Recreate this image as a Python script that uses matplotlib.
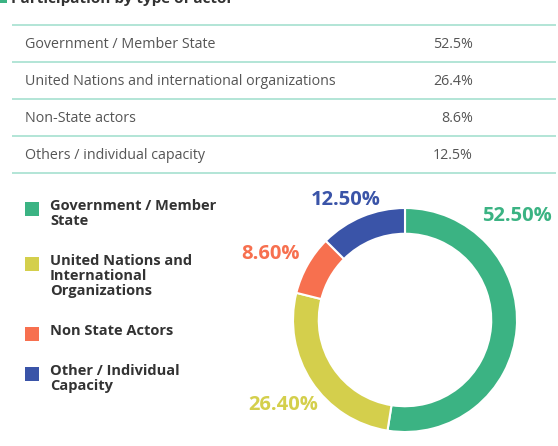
import matplotlib.pyplot as plt
from matplotlib.patches import Rectangle

plt.rcParams['font.family'] = ['Open Sans', 'DejaVu Sans']

# ----------------------------------------------------
# Data
# ----------------------------------------------------
title = "Participation by type of actor"

table_labels = [
    "Government / Member State",
    "United Nations and international organizations",
    "Non-State actors",
    "Others / individual capacity",
]
table_values = ["52.5%", "26.4%", "8.6%", "12.5%"]

legend_labels = [
    "Government / Member\nState",
    "United Nations and\nInternational\nOrganizations",
    "Non State Actors",
    "Other / Individual\nCapacity",
]
shares = [52.5, 26.4, 8.6, 12.5]
share_labels = ["52.50%", "26.40%", "8.60%", "12.50%"]

colors = ["#3BB383", "#D4CF4C", "#F7704F", "#3A54A8"]
line_color = "#A6E0CF"
text_gray = "#555555"
text_dark = "#333333"

W, H = 558, 446
fig = plt.figure(figsize=(W / 100, H / 100), dpi=100)

# background axes in pixel coordinates
bg = fig.add_axes([0, 0, 1, 1])
bg.set_xlim(0, W)
bg.set_ylim(H, 0)
bg.axis('off')

# title (cut off at the top in the reference)
bg.text(11, 3, title, fontsize=11, fontweight='bold', color=text_dark,
        va='baseline', ha='left', clip_on=False)
bg.add_patch(Rectangle((0, 0), 7, 3, color=colors[0], lw=0))

# ----------------------------------------------------
# Table
# ----------------------------------------------------
row_h = 37
top = 25
for i in range(len(table_labels) + 1):
    y = top + i * row_h
    bg.plot([12, 556], [y, y], color=line_color, lw=1.2, solid_capstyle='butt')
for i, (lab, val) in enumerate(zip(table_labels, table_values)):
    yc = top + i * row_h + row_h / 2 + 1
    bg.text(25, yc, lab, fontsize=10.3, color=text_gray, va='center', ha='left')
    bg.text(473, yc, val, fontsize=10.3, color=text_gray, va='center', ha='right')

# ----------------------------------------------------
# Legend
# ----------------------------------------------------
legend_y = [202, 257, 327, 367]
for lab, col, y in zip(legend_labels, colors, legend_y):
    bg.add_patch(Rectangle((25, y), 14, 14, color=col, lw=0))
    bg.text(50, y - 3, lab, fontsize=10.5, fontweight='bold', color=text_dark,
            va='top', ha='left', linespacing=1.1)

# ----------------------------------------------------
# Donut
# ----------------------------------------------------
cx, cy, r_px = 405, 320, 112
half = 130
ax = fig.add_axes([(cx - half) / W, 1 - (cy + half) / H, 2 * half / W, 2 * half / H])
ax.pie(shares, colors=colors, startangle=90, counterclock=False, radius=1,
       wedgeprops=dict(width=0.23, edgecolor='white', linewidth=1.5))
lim = half / r_px
ax.set_xlim(-lim, lim)
ax.set_ylim(-lim, lim)
ax.set_aspect('equal')
ax.axis('off')

# label positions in pixel coordinates of the figure
label_pos = [(517, 216), (283, 405), (270, 254), (346, 200)]
for lab, col, (px, py) in zip(share_labels, colors, label_pos):
    ax.text((px - cx) / r_px, (cy - py) / r_px, lab, fontsize=14.5, fontweight='bold',
            color=col, ha='center', va='center', clip_on=False)

fig.savefig("out.png", dpi=100)
